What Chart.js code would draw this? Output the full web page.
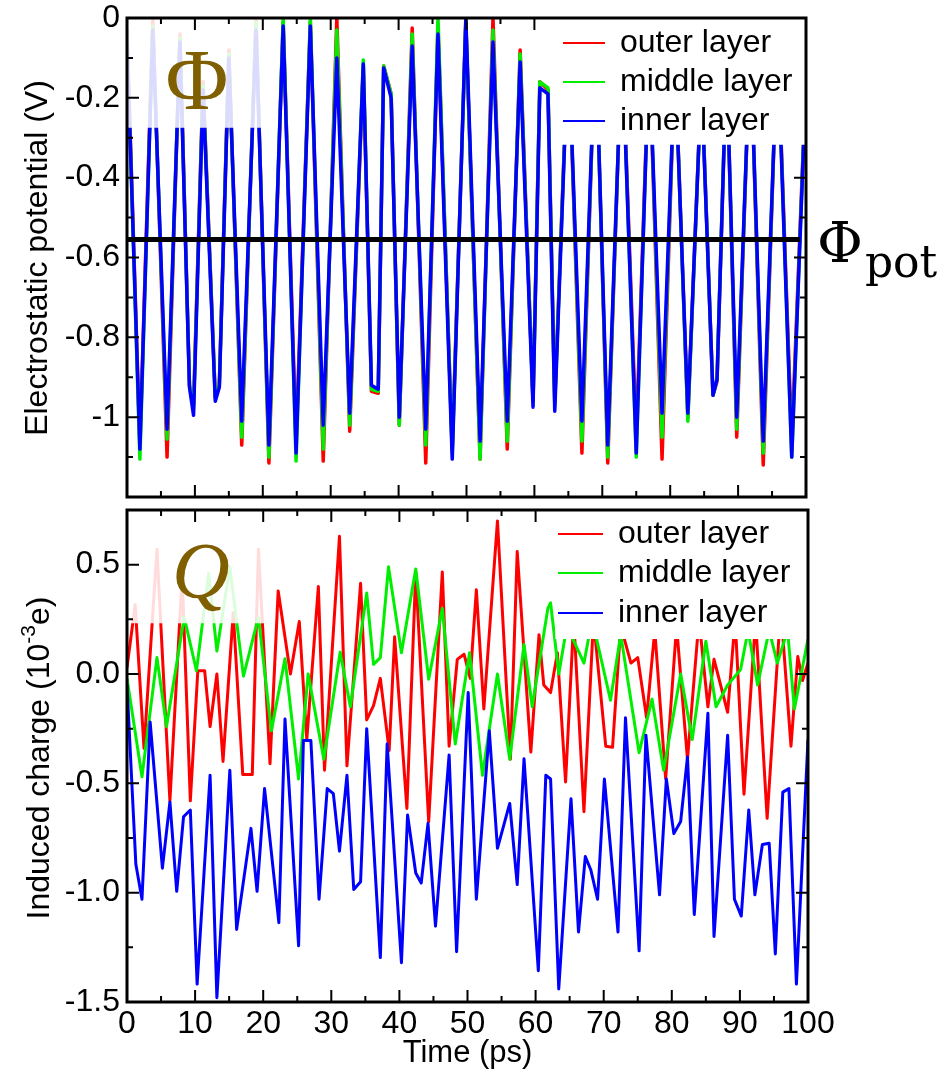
<!DOCTYPE html>
<html lang="en">
<head>
<meta charset="UTF-8">
<title>Electrostatic potential and induced charge</title>
<script src="https://cdn.jsdelivr.net/npm/chart.js"></script>
<style>
  body { margin: 0; background: #fff; }
  #wrap { position: relative; width: 949px; height: 1072px; }
  canvas { position: absolute; left: 0; }
  #potChart { top: 0; }
  #chargeChart { top: 505px; }
</style>
</head>
<body>
<div id="wrap">
  <canvas id="potChart" width="949" height="505"></canvas>
  <canvas id="chargeChart" width="949" height="567"></canvas>
</div>
<script>
// ---- top panel: electrostatic potential (V), turning points
const potTime   = [0, 1.9, 3.8, 5.9, 7.8, 9.2, 9.8, 11.2, 13.0, 13.6, 15.0, 16.9, 19.0, 20.9, 23.0, 24.9, 27.0, 28.9, 30.9, 32.8,
                   34.8, 36.0, 37.0, 37.8, 38.9, 40.1, 42.0, 44.0, 45.8, 47.9, 49.9, 52.0, 53.9, 56.0, 57.9, 59.8, 60.8, 62.0, 63.0, 65.0,
                   67.0, 69.0, 70.8, 72.9, 75.0, 76.9, 78.8, 80.7, 82.6, 84.6, 86.3, 86.9, 88.3, 89.8, 91.8, 93.7, 95.8, 97.9, 100];
const potOuter  = [-0.03, -1.07, 0.0, -1.10, -0.04, -0.92, -0.97, -0.16, -0.95, -0.92, -0.08, -1.07, 0.0, -1.115, -0.01, -1.06, -0.01, -1.11, 0.0, -1.035,
                   -0.12, -0.935, -0.94, -0.12, -0.19, -1.02, -0.025, -1.115, -0.02, -1.08, -0.01, -1.105, 0.0, -1.08, -0.08, -0.96, -0.16, -0.18, -0.96, -0.05,
                   -1.09, -0.03, -1.115, -0.05, -1.05, -0.08, -1.105, -0.10, -1.0, -0.15, -0.945, -0.91, -0.10, -1.05, -0.05, -1.12, -0.05, -1.06, -0.15];
const potMiddle = [-0.04, -1.105, -0.02, -1.055, -0.05, -0.92, -0.98, -0.17, -0.95, -0.92, -0.09, -1.05, -0.01, -1.10, 0.0, -1.11, 0.0, -1.08, -0.03, -1.02,
                   -0.105, -0.93, -0.935, -0.12, -0.19, -1.02, -0.04, -1.07, 0.0, -1.09, -0.01, -1.105, -0.03, -1.06, -0.09, -0.96, -0.16, -0.175, -0.97, -0.05,
                   -1.06, -0.03, -1.10, -0.05, -1.10, -0.08, -1.05, -0.10, -1.01, -0.15, -0.945, -0.905, -0.10, -1.03, -0.05, -1.09, -0.05, -1.10, -0.15];
const potInner  = [-0.05, -1.08, -0.03, -1.03, -0.06, -0.925, -0.995, -0.18, -0.96, -0.925, -0.10, -1.01, -0.03, -1.07, -0.02, -1.09, -0.02, -1.02, -0.10, -0.99,
                   -0.115, -0.92, -0.93, -0.125, -0.20, -1.0, -0.07, -1.03, -0.04, -1.105, 0.0, -1.06, -0.06, -1.01, -0.11, -0.975, -0.175, -0.19, -0.985, -0.06,
                   -1.01, -0.04, -1.07, -0.06, -1.09, -0.09, -0.99, -0.11, -0.99, -0.16, -0.945, -0.905, -0.11, -1.0, -0.06, -1.06, -0.06, -1.10, -0.16];
const potLevelT = [0, 99.1];
const potLevelV = [-0.555, -0.555];

// ---- bottom panel: induced charge (10^-3 e)
const chargeOuterT = [0, 1.2, 2.5, 4.4, 6.3, 8.1, 9.3, 10.4, 11.4, 12.2, 13.2, 14.1, 15.6, 17.0, 18.4, 19.3, 21.0, 22.2, 24.0, 25.3,
                      26.4, 28.1, 29.0, 31.2, 32.3, 34.3, 35.2, 36.2, 37.2, 38.5, 39.3, 41.1, 42.4, 44.3, 46.3, 47.3, 48.5, 49.5, 50.4, 51.3,
                      52.4, 54.4, 56.3, 57.3, 59.3, 60.5, 61.2, 62.2, 63.2, 64.4, 65.6, 67.1, 68.5, 70.3, 71.3, 72.5, 74.0, 75.0, 76.3, 77.5,
                      79.1, 80.7, 82.3, 84.0, 85.3, 86.2, 88.2, 89.3, 90.6, 92.3, 94.0, 96.0, 97.5, 98.5, 99.2, 100];
const chargeOuterV = [0.03, 0.317, -0.34, 0.57, -0.58, 0.45, -0.58, 0.015, 0.015, -0.24, 0.0, -0.40, 0.28, -0.46, -0.46, 0.57, -0.41, 0.38, 0.0, 0.24,
                      -0.30, 0.40, -0.44, 0.63, -0.42, 0.415, -0.21, -0.145, -0.02, -0.35, 0.17, -0.615, 0.467, -0.675, 0.467, -0.33, 0.067, 0.09, -0.02, 0.385,
                      -0.16, 0.70, -0.39, 0.56, -0.357, 0.18, -0.05, -0.085, 0.097, -0.494, 0.25, -0.63, 0.25, -0.33, -0.335, 0.22, 0.05, 0.075, -0.20, 0.20,
                      -0.48, 0.22, -0.39, 0.25, -0.15, 0.067, -0.175, 0.25, -0.55, 0.25, -0.66, 0.30, -0.33, 0.08, -0.03, 0.05];
const chargeMiddleT = [0, 2.2, 4.4, 5.8, 8.4, 10.2, 12.0, 13.2, 15.1, 17.1, 19.3, 21.2, 23.2, 25.2, 26.6, 28.9, 31.3, 32.8, 35.2, 36.2,
                       37.2, 38.4, 40.3, 42.4, 44.3, 46.3, 48.2, 50.3, 52.2, 54.4, 56.2, 58.3, 59.5, 61.8, 62.2, 63.4, 64.6, 67.1, 68.3, 71.0,
                       72.5, 75.2, 77.1, 78.8, 81.3, 83.0, 85.0, 86.5, 88.2, 90.1, 91.2, 92.6, 94.3, 95.5, 97.0, 98.0, 99.0, 100];
const chargeMiddleV = [-0.02, -0.47, 0.075, -0.24, 0.26, 0.015, 0.46, 0.105, 0.49, -0.01, 0.26, -0.26, 0.07, -0.48, 0.0, -0.39, 0.10, -0.15, 0.37, 0.044,
                       0.075, 0.49, 0.097, 0.48, -0.024, 0.30, -0.32, 0.097, -0.463, 0.0, -0.39, 0.135, -0.15, 0.30, 0.325, 0.0, 0.22, 0.05, 0.25, -0.12,
                       0.18, -0.36, -0.115, -0.44, 0.0, -0.30, 0.15, -0.15, -0.05, 0.02, 0.20, -0.05, 0.20, 0.05, 0.20, -0.16, 0.0, 0.16];
const chargeInnerT = [0, 1.3, 2.2, 3.4, 5.2, 6.3, 7.3, 8.3, 9.3, 10.3, 12.2, 13.2, 15.1, 16.1, 18.2, 19.1, 20.2, 22.3, 23.2, 25.2,
                      25.9, 27.0, 28.2, 29.4, 30.3, 31.2, 32.3, 33.3, 34.3, 35.2, 37.2, 38.2, 40.3, 41.2, 42.4, 43.2, 44.2, 45.3, 47.3, 48.4,
                      50.1, 51.3, 53.2, 54.4, 56.2, 57.3, 58.3, 60.4, 61.5, 62.2, 63.4, 65.2, 66.3, 67.3, 68.1, 69.1, 70.1, 72.1, 73.2, 75.2,
                      76.2, 78.2, 79.2, 80.3, 81.3, 82.3, 83.3, 85.3, 86.2, 88.2, 89.2, 90.2, 91.3, 92.2, 93.3, 94.3, 95.2, 96.3, 97.2, 98.3, 100];
const chargeInnerV = [-0.05, -0.87, -1.03, -0.22, -0.888, -0.585, -0.994, -0.653, -0.622, -1.418, -0.463, -1.48, -0.44, -1.168, -0.706, -0.994, -0.524, -1.137, -0.206, -1.243,
                      -0.304, -0.304, -1.03, -0.524, -0.547, -0.81, -0.463, -0.986, -0.95, -0.25, -1.297, -0.32, -1.32, -0.645, -0.91, -0.956, -0.683, -1.153, -0.37, -1.27,
                      -0.085, -1.03, -0.26, -0.797, -0.592, -0.963, -0.388, -1.357, -0.463, -0.48, -1.44, -0.57, -1.18, -0.835, -0.895, -1.03, -0.48, -1.18, -0.20, -1.266,
                      -0.28, -1.01, -0.48, -0.73, -0.675, -0.38, -1.10, -0.18, -1.20, -0.28, -1.03, -1.107, -0.622, -1.01, -0.78, -0.774, -1.28, -0.54, -0.524, -1.418, -0.30];

// ---- axes and legend text
const layerNames  = ['outer layer', 'middle layer', 'inner layer'];
const layerColors = ['#ff0000', '#00ee00', '#0000ff'];
const timeMajor = [0, 10, 20, 30, 40, 50, 60, 70, 80, 90, 100];
const timeMinor = [5, 15, 25, 35, 45, 55, 65, 75, 85, 95];
const potYTicks  = [0, -0.2, -0.4, -0.6, -0.8, -1];
const potYLabels = ['0', '-0.2', '-0.4', '-0.6', '-0.8', '-1'];
const potYMinor  = [-0.1, -0.3, -0.5, -0.7, -0.9, -1.1];
const chargeYTicks  = [0.5, 0, -0.5, -1, -1.5];
const chargeYLabels = ['0.5', '0.0', '-0.5', '-1.0', '-1.5'];
const chargeYMinor  = [0.25, -0.25, -0.75, -1.25];

const SANS = '"Liberation Sans", Arial, sans-serif';
Chart.defaults.font.family = SANS;
Chart.defaults.color = '#000';

function series(t, v) { return t.map((x, i) => ({ x: x, y: v[i] })); }

function layerSets(tList, vList, width) {
  return layerNames.map((name, i) => ({
    label: name,
    data: series(tList[i], vList[i]),
    borderColor: layerColors[i],
    borderWidth: width,
    borderJoinStyle: 'round',
    pointRadius: 0,
    tension: 0,
    fill: false,
    order: 2 - i            // inner layer drawn last, on top
  }));
}

// draws inward ticks, the boxes over the curves, legend, frame and the big symbol
function decorate(chart, o) {
  const { ctx, chartArea: a, scales: { x, y } } = chart;
  const px = v => x.getPixelForValue(v), py = v => y.getPixelForValue(v);
  ctx.save();

  ctx.fillStyle = 'rgba(255,255,255,0.86)';
  ctx.fillRect(a.left, a.top, px(o.symbolBox[0]) - a.left, py(o.symbolBox[1]) - a.top);

  ctx.strokeStyle = '#000';
  ctx.lineWidth = 2;
  ctx.beginPath();
  const xt = (vals, len) => vals.forEach(v => {
    const p = px(v);
    ctx.moveTo(p, a.bottom); ctx.lineTo(p, a.bottom - len);
    ctx.moveTo(p, a.top); ctx.lineTo(p, a.top + len);
  });
  const yt = (vals, len) => vals.forEach(v => {
    const p = py(v);
    ctx.moveTo(a.left, p); ctx.lineTo(a.left + len, p);
    ctx.moveTo(a.right, p); ctx.lineTo(a.right - len, p);
  });
  xt(timeMajor, 12); xt(timeMinor, 6);
  yt(o.yMajor, 12); yt(o.yMinor, 6);
  ctx.stroke();

  const lx = px(o.legendBox[0]);
  ctx.fillStyle = '#fff';
  ctx.fillRect(lx, a.top, a.right - lx, py(o.legendBox[1]) - a.top);

  ctx.font = '32px ' + SANS;
  ctx.textBaseline = 'middle';
  ctx.textAlign = 'left';
  layerNames.forEach((name, i) => {
    ctx.strokeStyle = layerColors[i];
    ctx.lineWidth = 2;
    ctx.beginPath();
    ctx.moveTo(o.legendX[0], o.legendY[i]);
    ctx.lineTo(o.legendX[1], o.legendY[i]);
    ctx.stroke();
    ctx.fillStyle = '#000';
    ctx.fillText(name, o.legendX[2], o.legendY[i]);
  });

  ctx.strokeStyle = '#000';
  ctx.lineWidth = 3;
  ctx.strokeRect(a.left, a.top, a.right - a.left, a.bottom - a.top);

  ctx.fillStyle = '#7f5f00';
  ctx.font = o.symbolFont;
  ctx.textAlign = 'center';
  ctx.textBaseline = 'alphabetic';
  ctx.fillText(o.symbol, o.symbolX, o.symbolY);
  ctx.restore();
}

function rotatedTitle(ctx, cx, cy, parts) {
  ctx.save();
  ctx.translate(cx, cy);
  ctx.rotate(-Math.PI / 2);
  ctx.fillStyle = '#000';
  ctx.textBaseline = 'middle';
  ctx.textAlign = 'left';
  let total = 0;
  parts.forEach(p => { ctx.font = p.size + 'px ' + SANS; p.w = ctx.measureText(p.text).width; total += p.w; });
  let pos = -total / 2;
  parts.forEach(p => { ctx.font = p.size + 'px ' + SANS; ctx.fillText(p.text, pos, p.dy || 0); pos += p.w; });
  ctx.restore();
}

const yTickOpts = (ticks, labels) => ({
  font: { size: 32 },
  color: '#000',
  padding: 7,
  callback: (v, i) => labels[i]
});

// ---- top chart
new Chart(document.getElementById('potChart'), {
  type: 'line',
  data: {
    datasets: layerSets([potTime, potTime, potTime], [potOuter, potMiddle, potInner], 3.5).concat([{
      label: 'Φpot',
      data: series(potLevelT, potLevelV),
      borderColor: '#000',
      borderWidth: 5,
      pointRadius: 0,
      order: -1
    }])
  },
  options: {
    responsive: false,
    animation: false,
    layout: { padding: { left: 0, right: 143, top: 18, bottom: 8 } },
    plugins: { legend: { display: false }, tooltip: { enabled: false } },
    scales: {
      x: { type: 'linear', min: 0, max: 100, display: false },
      y: {
        type: 'linear', min: -1.2, max: 0,
        afterBuildTicks: s => { s.ticks = potYTicks.map(v => ({ value: v })); },
        afterFit: s => { s.width = 127; s.paddingTop = 0; s.paddingBottom = 0; },
        ticks: yTickOpts(potYTicks, potYLabels),
        grid: { display: false, drawTicks: false },
        border: { display: false }
      }
    }
  },
  plugins: [{
    id: 'potDecor',
    afterDatasetsDraw(chart) {
      decorate(chart, {
        yMajor: [0, -0.2, -0.4, -0.6, -0.8, -1, -1.2], yMinor: potYMinor,
        symbolBox: [20.3, -0.275], legendBox: [63, -0.3175],
        legendX: [563, 605, 620], legendY: [43, 82, 121],
        symbol: 'Φ', symbolFont: '86px "Liberation Serif", serif', symbolX: 197, symbolY: 109
      });
    },
    afterDraw(chart) {
      const ctx = chart.ctx;
      rotatedTitle(ctx, 38, 258, [{ text: 'Electrostatic potential (V)', size: 32 }]);
      ctx.save();
      ctx.fillStyle = '#000';
      ctx.textBaseline = 'alphabetic';
      ctx.font = '56px "DejaVu Serif", serif';
      ctx.fillText('Φ', 817, 262);
      const w = ctx.measureText('Φ').width;
      ctx.font = '44px "DejaVu Serif", serif';
      ctx.fillText('pot', 817 + w + 2, 277);
      ctx.restore();
    }
  }]
});

// ---- bottom chart
new Chart(document.getElementById('chargeChart'), {
  type: 'line',
  data: {
    datasets: layerSets([chargeOuterT, chargeMiddleT, chargeInnerT], [chargeOuterV, chargeMiddleV, chargeInnerV], 3)
  },
  options: {
    responsive: false,
    animation: false,
    layout: { padding: { left: 0, right: 141, top: 5, bottom: 0 } },
    plugins: { legend: { display: false }, tooltip: { enabled: false } },
    scales: {
      x: {
        type: 'linear', min: 0, max: 100,
        afterBuildTicks: s => { s.ticks = timeMajor.map(v => ({ value: v })); },
        afterFit: s => { s.height = 70; s.paddingLeft = 0; s.paddingRight = 0; },
        ticks: { font: { size: 32 }, color: '#000', padding: 3, maxRotation: 0, autoSkip: false },
        grid: { display: false, drawTicks: false },
        border: { display: false },
        title: { display: true, text: 'Time (ps)', font: { size: 31 }, color: '#000', padding: { top: 0, bottom: 0 } }
      },
      y: {
        type: 'linear', min: -1.5, max: 0.75,
        afterBuildTicks: s => { s.ticks = chargeYTicks.map(v => ({ value: v })); },
        afterFit: s => { s.width = 127; s.paddingTop = 0; s.paddingBottom = 0; },
        ticks: yTickOpts(chargeYTicks, chargeYLabels),
        grid: { display: false, drawTicks: false },
        border: { display: false }
      }
    }
  },
  plugins: [{
    id: 'chargeDecor',
    afterDatasetsDraw(chart) {
      decorate(chart, {
        yMajor: chargeYTicks, yMinor: chargeYMinor,
        symbolBox: [20.3, 0.232], legendBox: [62.9, 0.16],
        legendX: [558, 603, 618], legendY: [29, 68, 108],
        symbol: 'Q', symbolFont: 'italic 80px "Liberation Serif", serif', symbolX: 201, symbolY: 93
      });
    },
    afterDraw(chart) {
      rotatedTitle(chart.ctx, 40, 253, [
        { text: 'Induced charge (10', size: 32 },
        { text: '-3', size: 21, dy: -11 },
        { text: 'e)', size: 32 }
      ]);
    }
  }]
});
</script>
</body>
</html>
